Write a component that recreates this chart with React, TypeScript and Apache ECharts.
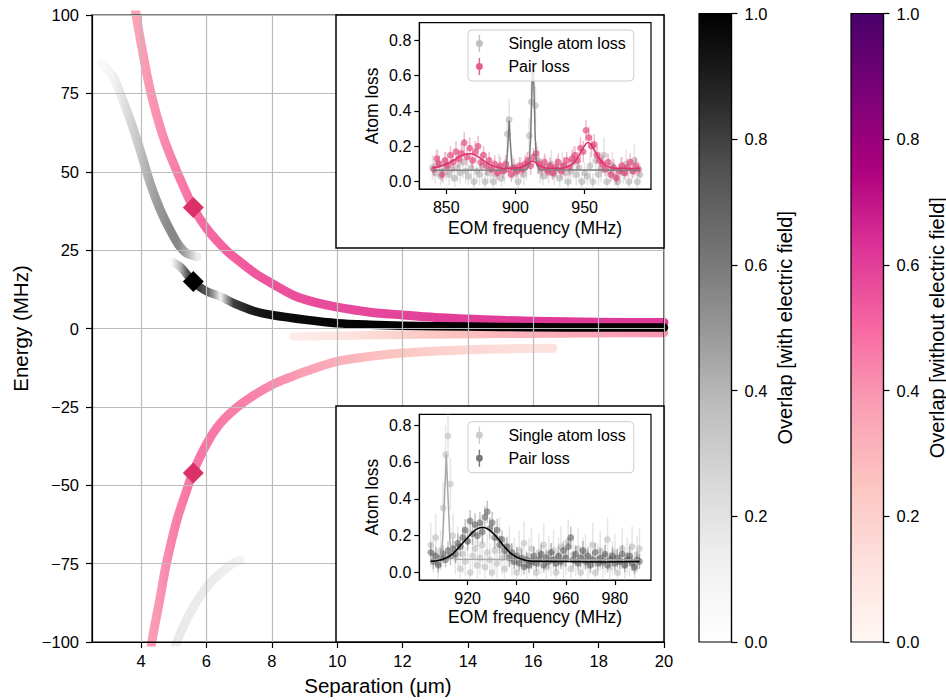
import React, { useEffect, useRef } from 'react';
import * as echarts from 'echarts';

const FONT = '"Liberation Sans", Arial, Helvetica, sans-serif';

// ---------- Main panel: curves [separation µm], [energy MHz], [overlap 0..1]
const curveAX = [3.78, 3.85, 4.0, 4.2, 4.4, 4.7, 5.1, 5.6, 6.0, 6.6, 7.0, 7.5, 8.0, 8.7, 9.3, 10, 11, 12, 13, 14, 15, 16, 18, 20];
const curveAY = [106, 100, 91, 80, 71, 60.5, 50, 38.6, 32, 25, 21.5, 17.5, 14.4, 10.4, 8.4, 6.8, 5.2, 4.3, 3.5, 3.0, 2.6, 2.3, 2.0, 1.9];
const curveAO = [0.36, 0.36, 0.37, 0.39, 0.4, 0.42, 0.45, 0.48, 0.5, 0.52, 0.53, 0.54, 0.55, 0.56, 0.57, 0.57, 0.58, 0.59, 0.6, 0.6, 0.6, 0.61, 0.61, 0.61];

const curveBX = [4.3, 4.33, 4.59, 4.77, 5.1, 5.4, 5.58, 6.02, 6.43, 6.94, 7.5, 8.0, 8.5, 9.0, 10, 11, 12, 13, 14, 15, 16.6];
const curveBY = [-104, -100, -85.5, -75.2, -61, -51.5, -46.1, -36.6, -30.2, -25.1, -21, -18, -15.8, -13.8, -10.5, -8.9, -7.8, -7.2, -6.8, -6.5, -6.3];
const curveBO = [0.38, 0.38, 0.4, 0.42, 0.45, 0.46, 0.47, 0.47, 0.46, 0.45, 0.44, 0.42, 0.4, 0.37, 0.33, 0.28, 0.24, 0.2, 0.17, 0.14, 0.12];

const curveCX = [8.67, 9, 10, 11, 12, 13, 14, 15, 16, 17, 18, 19, 20];
const curveCY = [-2.6, -2.5, -2.3, -2.1, -2.0, -1.9, -1.8, -1.7, -1.65, -1.6, -1.5, -1.45, -1.4];
const curveCO = [0.06, 0.07, 0.1, 0.15, 0.2, 0.24, 0.27, 0.3, 0.32, 0.34, 0.36, 0.38, 0.4];

const curveDX = [2.8, 3.15, 3.36, 3.67, 3.97, 4.28, 4.59, 4.89, 5.15, 5.4, 5.71];
const curveDY = [84.6, 80.3, 75, 66.5, 57, 46.3, 37.8, 31.4, 26.7, 24, 22.9];
const curveDO = [0.05, 0.1, 0.17, 0.27, 0.35, 0.44, 0.5, 0.55, 0.55, 0.42, 0.15];

const curveEX = [4.94, 5.2, 5.4, 5.58, 5.8, 6.02, 6.25, 6.43, 6.6, 6.83, 7.45, 8.0, 9.09, 10, 11, 12, 14, 16, 18, 20];
const curveEY = [21.3, 19.7, 17.3, 15.0, 13.2, 11.8, 10.9, 10.2, 9.3, 8.1, 5.6, 4.3, 2.7, 1.7, 1.2, 0.9, 0.6, 0.4, 0.3, 0.3];
const curveEO = [0.03, 0.4, 0.7, 0.85, 0.8, 0.72, 0.45, 0.1, 0.45, 0.8, 0.92, 0.95, 0.97, 0.98, 0.99, 1, 1, 1, 1, 1];

const curveFX = [5.0, 5.2, 5.61, 6.02, 6.43, 6.83, 7.04];
const curveFY = [-103, -97.2, -88.7, -82.3, -78.0, -74.8, -73.8];
const curveFO = [0.16, 0.16, 0.15, 0.15, 0.14, 0.12, 0.1];

const pinkMarkersX = [5.6, 5.6];
const pinkMarkersY = [38.6, -46.1];
const blackMarkersX = [5.6];
const blackMarkersY = [15.0];

const mainXTicks = [4, 6, 8, 10, 12, 14, 16, 18, 20];
const insetYTicks = [0, 0.2, 0.4, 0.6, 0.8];
const inset1XTicks = [850, 900, 950];
const inset2XTicks = [920, 940, 960, 980];

// ---------- Inset 1 (upper): [EOM MHz, atom loss, error]
const single1 = [
  [840,0.08,0.07],[842,0.05,0.06],[844,0.10,0.08],[846,0.03,0.05],[848,0.06,0.07],[850,0.09,0.08],[852,0.04,0.06],[854,0.07,0.07],
  [856,0.02,0.05],[858,0.08,0.08],[860,0.05,0.06],[862,0.11,0.09],[864,0.06,0.07],[866,0.03,0.05],[868,0.08,0.07],[870,0.00,0.05],
  [872,0.06,0.07],[874,0.04,0.06],[876,0.09,0.08],[878,0.00,0.05],[880,0.05,0.06],[882,0.07,0.07],[884,0.00,0.05],[886,0.04,0.06],
  [888,0.08,0.08],[890,0.02,0.05],[892,0.06,0.07],[894,0.27,0.10],[895.5,0.35,0.12],[898,0.08,0.07],[900,0.05,0.06],[902,0.00,0.05],
  [904,0.07,0.07],[906,0.04,0.06],[908,0.09,0.08],[910,0.26,0.10],[911.5,0.45,0.12],[912.5,0.62,0.12],[914.5,0.43,0.11],[916,0.12,0.08],
  [918,0.06,0.07],[920,0.03,0.05],[922,0.08,0.07],[924,0.05,0.06],[926,0.10,0.08],[928,0.04,0.06],[930,0.07,0.07],[932,0.02,0.05],
  [934,0.09,0.08],[936,0.05,0.06],[938,0.00,0.05],[940,0.06,0.07],[942,0.11,0.09],[944,0.04,0.06],[946,0.08,0.08],[948,0.00,0.05],
  [950,0.05,0.06],[952,0.03,0.05],[954,0.09,0.08],[956,0.00,0.05],[958,0.12,0.09],[960,0.04,0.06],[962,0.07,0.07],[964,0.15,0.10],
  [966,0.00,0.05],[968,0.06,0.07],[970,0.09,0.08],[972,0.03,0.05],[974,0.00,0.05],[976,0.07,0.07],[978,0.05,0.06],[980,0.10,0.08],
  [982,0.00,0.05],[984,0.06,0.07],[986,0.12,0.09],[988,0.00,0.05],[990,0.04,0.06]
];
const pair1 = [
  [841,0.07,0.04],[843,0.13,0.05],[845,0.10,0.05],[847,0.04,0.04],[849,0.12,0.05],[851,0.09,0.05],[853,0.15,0.05],[855,0.11,0.05],
  [857,0.17,0.06],[859,0.13,0.05],[861,0.16,0.06],[863,0.22,0.06],[865,0.14,0.05],[867,0.19,0.06],[869,0.12,0.05],[871,0.17,0.06],
  [873,0.20,0.06],[875,0.11,0.05],[877,0.15,0.05],[879,0.09,0.05],[881,0.12,0.05],[883,0.07,0.04],[885,0.10,0.05],[887,0.05,0.04],
  [889,0.09,0.05],[891,0.06,0.04],[893,0.10,0.05],[895,0.07,0.04],[897,0.04,0.04],[899,0.08,0.05],[901,0.06,0.04],[903,0.09,0.05],
  [905,0.07,0.04],[907,0.10,0.05],[909,0.12,0.05],[911,0.09,0.05],[913,0.14,0.05],[915,0.16,0.06],[917,0.10,0.05],[919,0.08,0.05],
  [921,0.11,0.05],[923,0.06,0.04],[925,0.09,0.05],[927,0.05,0.04],[929,0.08,0.05],[931,0.11,0.05],[933,0.06,0.04],[935,0.09,0.05],
  [937,0.12,0.05],[939,0.08,0.05],[941,0.13,0.05],[943,0.15,0.05],[945,0.12,0.05],[947,0.19,0.06],[949,0.17,0.06],[951,0.29,0.06],
  [953,0.25,0.06],[955,0.20,0.06],[957,0.21,0.06],[959,0.15,0.05],[961,0.12,0.05],[963,0.10,0.05],[965,0.07,0.04],[967,0.11,0.05],
  [969,0.04,0.04],[971,0.08,0.05],[973,0.02,0.04],[975,0.06,0.04],[977,0.09,0.05],[979,0.05,0.04],[981,0.08,0.05],[983,0.11,0.05],
  [985,0.06,0.04],[987,0.09,0.05],[989,0.07,0.04]
];
const singleFit1 = [[840,0.065],[892,0.066],[893.5,0.09],[894.5,0.2],[895.5,0.345],[896.5,0.2],[897.5,0.09],[899,0.066],[908,0.068],
  [910,0.1],[911,0.25],[912,0.55],[912.6,0.66],[913.3,0.55],[914.3,0.25],[915.3,0.1],[917,0.068],[990,0.065]];
const pairFit1 = [[840,0.08],[845,0.085],[850,0.1],[855,0.12],[860,0.143],[865,0.158],[868,0.158],[872,0.146],[876,0.125],[880,0.104],
  [884,0.088],[888,0.079],[892,0.076],[896,0.076],[900,0.077],[904,0.082],[907,0.092],[909,0.103],[911,0.113],[912.5,0.117],[914,0.112],
  [916,0.1],[918,0.088],[921,0.079],[925,0.076],[930,0.076],[935,0.078],[939,0.088],[942,0.105],[945,0.135],[948,0.178],[951,0.215],
  [952.5,0.222],[954,0.215],[957,0.18],[960,0.138],[963,0.106],[966,0.088],[970,0.078],[975,0.076],[990,0.075]];

// ---------- Inset 2 (lower)
const single2 = [
  [905,0.15,0.12],[906,0.10,0.10],[907,0.19,0.13],[908,0.05,0.08],[909,0.12,0.11],[910,0.35,0.14],[911,0.64,0.16],[912,0.74,0.12],
  [913,0.48,0.14],[914,0.20,0.12],[915,0.08,0.09],[916,0.14,0.11],[917,0.02,0.07],[918,0.10,0.10],[919,0.06,0.08],[920,0.17,0.12],
  [921,0.00,0.07],[922,0.09,0.10],[923,0.13,0.11],[924,0.04,0.08],[925,0.08,0.09],[926,0.15,0.12],[927,0.03,0.07],[928,0.11,0.10],
  [929,0.07,0.09],[930,0.00,0.07],[931,0.12,0.11],[932,0.05,0.08],[933,0.18,0.12],[934,0.08,0.09],[935,0.02,0.07],[936,0.10,0.10],
  [937,0.14,0.11],[938,0.06,0.08],[939,0.09,0.10],[940,0.00,0.07],[941,0.12,0.11],[942,0.07,0.09],[943,0.16,0.12],[944,0.04,0.08],
  [945,0.09,0.10],[946,0.13,0.11],[947,0.06,0.08],[948,0.00,0.07],[949,0.11,0.10],[950,0.08,0.09],[951,0.15,0.12],[952,0.03,0.07],
  [953,0.10,0.10],[954,0.07,0.09],[955,0.12,0.11],[956,0.00,0.07],[957,0.09,0.10],[958,0.14,0.11],[959,0.05,0.08],[960,0.08,0.09],
  [961,0.17,0.12],[962,0.02,0.07],[963,0.10,0.10],[964,0.06,0.08],[965,0.13,0.11],[966,0.00,0.07],[967,0.09,0.10],[968,0.11,0.10],
  [969,0.04,0.08],[970,0.08,0.09],[971,0.15,0.12],[972,0.00,0.07],[973,0.07,0.09],[974,0.12,0.11],[975,0.05,0.08],[976,0.09,0.10],
  [977,0.18,0.12],[978,0.03,0.07],[979,0.08,0.09],[980,0.11,0.10],[981,0.00,0.07],[982,0.06,0.08],[983,0.13,0.11],[984,0.04,0.08],
  [985,0.09,0.10],[986,0.07,0.09],[987,0.14,0.11],[988,0.02,0.07],[989,0.10,0.10],[990,0.13,0.11]
];
const pair2 = [
  [905,0.11,0.05],[906,0.06,0.04],[907,0.09,0.05],[908,0.04,0.04],[909,0.08,0.05],[910,0.10,0.05],[911,0.07,0.04],[912,0.12,0.05],
  [913,0.09,0.05],[914,0.13,0.05],[915,0.10,0.05],[916,0.16,0.05],[917,0.14,0.05],[918,0.19,0.06],[919,0.23,0.06],[920,0.17,0.05],
  [921,0.28,0.06],[922,0.21,0.06],[923,0.26,0.06],[924,0.20,0.06],[925,0.27,0.06],[926,0.22,0.06],[927,0.30,0.06],[928,0.33,0.06],
  [929,0.24,0.06],[930,0.27,0.06],[931,0.19,0.06],[932,0.23,0.06],[933,0.15,0.05],[934,0.18,0.05],[935,0.12,0.05],[936,0.14,0.05],
  [937,0.08,0.05],[938,0.11,0.05],[939,0.06,0.04],[940,0.09,0.05],[941,0.05,0.04],[942,0.08,0.05],[943,0.03,0.04],[944,0.07,0.04],
  [945,0.04,0.04],[946,0.06,0.04],[947,0.09,0.05],[948,0.05,0.04],[949,0.07,0.04],[950,0.10,0.05],[951,0.04,0.04],[952,0.08,0.05],
  [953,0.06,0.04],[954,0.11,0.05],[955,0.07,0.04],[956,0.05,0.04],[957,0.09,0.05],[958,0.06,0.04],[959,0.12,0.05],[960,0.08,0.05],
  [961,0.14,0.05],[962,0.19,0.06],[963,0.07,0.04],[964,0.10,0.05],[965,0.05,0.04],[966,0.08,0.05],[967,0.12,0.05],[968,0.06,0.04],
  [969,0.09,0.05],[970,0.04,0.04],[971,0.07,0.04],[972,0.11,0.05],[973,0.05,0.04],[974,0.08,0.05],[975,0.06,0.04],[976,0.10,0.05],
  [977,0.04,0.04],[978,0.07,0.04],[979,0.09,0.05],[980,0.05,0.04],[981,0.08,0.05],[982,0.06,0.04],[983,0.10,0.05],[984,0.04,0.04],
  [985,0.07,0.04],[986,0.09,0.05],[987,0.05,0.04],[988,0.03,0.04],[989,0.07,0.04],[990,0.06,0.04]
];
const singleFit2 = [[905,0.07],[908,0.072],[909,0.09],[909.8,0.17],[910.5,0.38],[911.3,0.64],[912.1,0.38],[912.8,0.17],[913.6,0.09],[915,0.072],[990,0.07]];
const pairFit2 = [[905,0.062],[908,0.066],[911,0.078],[914,0.103],[917,0.145],[920,0.19],[922,0.218],[924,0.238],[926,0.245],[928,0.238],
  [930,0.218],[932,0.19],[935,0.14],[938,0.1],[941,0.077],[944,0.066],[948,0.061],[960,0.06],[975,0.058],[990,0.06]];

// ---------- colormaps
const GREYS = ['#ffffff', '#f0f0f0', '#d9d9d9', '#bdbdbd', '#969696', '#737373', '#525252', '#252525', '#000000'];
const RDPU = ['#fff7f3', '#fde0dd', '#fcc5c0', '#fa9fb5', '#f768a1', '#dd3497', '#ae017e', '#7a0177', '#49006a'];

function hex(h: string) {
  return [parseInt(h.slice(1, 3), 16), parseInt(h.slice(3, 5), 16), parseInt(h.slice(5, 7), 16)];
}
function cmap(stops: string[], v: number) {
  const t = Math.max(0, Math.min(1, v)) * (stops.length - 1);
  const i = Math.min(Math.floor(t), stops.length - 2);
  const f = t - i;
  const a = hex(stops[i]);
  const b = hex(stops[i + 1]);
  const c = a.map((av, k) => Math.round(av + (b[k] - av) * f));
  return `rgb(${c[0]},${c[1]},${c[2]})`;
}
function curveGradient(xs: number[], ov: number[], stops: string[]) {
  const x0 = xs[0];
  const x1 = xs[xs.length - 1];
  return {
    type: 'linear', x: 0, y: 0, x2: 1, y2: 0,
    colorStops: xs.map((x, i) => ({ offset: (x - x0) / (x1 - x0), color: cmap(stops, ov[i]) })),
  };
}
function barGradient(stops: string[]) {
  const n = stops.length;
  return {
    type: 'linear', x: 0, y: 0, x2: 0, y2: 1,
    colorStops: stops.map((_, i) => ({ offset: i / (n - 1), color: stops[n - 1 - i] })),
  };
}

function curveSeries(xs: number[], ys: number[], ov: number[], stops: string[], width: number) {
  return {
    type: 'line', xAxisIndex: 0, yAxisIndex: 0, silent: true, z: 2,
    data: xs.map((x, i) => [x, ys[i]]),
    smooth: 0.3, symbol: 'none', showSymbol: false, clip: true,
    lineStyle: { width, color: curveGradient(xs, ov, stops), cap: 'round', join: 'round' },
  };
}

function errSeries(name: string, data: number[][], idx: number, fill: string, fillOp: number, stroke: string, strokeOp: number, z: number) {
  return {
    type: 'custom', name, xAxisIndex: idx, yAxisIndex: idx, data, clip: true, silent: true, z,
    encode: { x: 0, y: 1 },
    renderItem: (_p: any, api: any) => {
      const x = api.value(0), y = api.value(1), e = api.value(2);
      const c = api.coord([x, y]);
      const t = api.coord([x, y + e]);
      const b = api.coord([x, y - e]);
      return {
        type: 'group',
        children: [
          { type: 'line', shape: { x1: c[0], y1: t[1], x2: c[0], y2: b[1] }, style: { stroke, lineWidth: 1.5, opacity: strokeOp } },
          { type: 'circle', shape: { cx: c[0], cy: c[1], r: 3.4 }, style: { fill, opacity: fillOp } },
        ],
      };
    },
  };
}

function fitSeries(data: number[][], idx: number, color: string, smooth: number, z: number) {
  return {
    type: 'line', xAxisIndex: idx, yAxisIndex: idx, data, smooth, symbol: 'none', showSymbol: false,
    silent: true, clip: true, z, lineStyle: { color, width: 1.5 },
  };
}

const minusFmt = (v: number) => (v < 0 ? '\u2212' + Math.abs(v) : String(v));
const black = { color: '#000', width: 1.2 };

function insetX(grid: number, min: number, max: number, ticks: number[], gap: number) {
  return {
    gridIndex: grid, type: 'value', min, max, z: 11,
    axisLine: { show: true, onZero: false, lineStyle: black },
    axisTick: { show: true, length: 5, lineStyle: black, customValues: ticks },
    axisLabel: { show: true, customValues: ticks, fontSize: 16, color: '#000', margin: 10, fontFamily: FONT },
    splitLine: { show: false },
    name: 'EOM frequency (MHz)', nameLocation: 'middle', nameGap: gap,
    nameTextStyle: { fontSize: 17.5, color: '#000', fontFamily: FONT },
  };
}
function insetY(grid: number, min: number, max: number) {
  return {
    gridIndex: grid, type: 'value', min, max, z: 11,
    axisLine: { show: true, onZero: false, lineStyle: black },
    axisTick: { show: true, length: 5, lineStyle: black, customValues: insetYTicks },
    axisLabel: { show: true, customValues: insetYTicks, fontSize: 16, color: '#000', margin: 8, fontFamily: FONT,
      formatter: (v: number) => v.toFixed(1) },
    splitLine: { show: false },
    name: 'Atom loss', nameLocation: 'middle', nameGap: 38, nameRotate: 90,
    nameTextStyle: { fontSize: 17.5, color: '#000', fontFamily: FONT },
  };
}
function cbY(grid: number, name: string) {
  return {
    gridIndex: grid, type: 'value', min: 0, max: 1, interval: 0.2, position: 'right',
    axisLine: { show: true, onZero: false, lineStyle: black },
    axisTick: { show: true, length: 6, lineStyle: black },
    axisLabel: { show: true, fontSize: 16.5, color: '#000', margin: 13, fontFamily: FONT, formatter: (v: number) => v.toFixed(1) },
    splitLine: { show: false },
    name, nameLocation: 'middle', nameGap: 43, nameRotate: 90,
    nameTextStyle: { fontSize: 20, color: '#000', fontFamily: FONT },
  };
}

const errIcon = 'path://M-0.7,-8.5L0.7,-8.5L0.7,8.5L-0.7,8.5Z M-3.4,0A3.4,3.4 0 1,1 3.4,0A3.4,3.4 0 1,1 -3.4,0Z';
function legendAt(top: number, c1: string, c2: string) {
  return {
    orient: 'vertical', left: 468, top, padding: [5, 8, 6, 8], itemWidth: 28, itemHeight: 17, itemGap: 6,
    borderColor: '#cccccc', borderWidth: 1, borderRadius: 4, backgroundColor: 'rgba(255,255,255,0.8)',
    selectedMode: false, z: 15,
    textStyle: { fontFamily: FONT, fontSize: 16, color: '#000', padding: [0, 0, 0, 10] },
    data: [
      { name: 'Single atom loss', icon: errIcon, itemStyle: { color: c1, opacity: 0.75 } },
      { name: 'Pair loss', icon: errIcon, itemStyle: { color: c2, opacity: 0.8 } },
    ],
  };
}

export default function App() {
  const ref = useRef<HTMLDivElement>(null);
  useEffect(() => {
    document.body.style.margin = '0';
    const chart = echarts.init(ref.current!, undefined, { renderer: 'svg' });
    const option: any = {
      animation: false,
      backgroundColor: '#fff',
      textStyle: { fontFamily: FONT },
      grid: [
        { left: 92, top: 15, width: 572, height: 627, show: true, borderColor: '#000', borderWidth: 1.2, backgroundColor: 'transparent', z: 3, outerBoundsMode: 'none' },
        { left: 419.3, top: 22.7, width: 231.7, height: 166.3, show: true, borderColor: '#000', borderWidth: 1.2, backgroundColor: 'transparent', z: 11, outerBoundsMode: 'none' },
        { left: 419.3, top: 414.3, width: 231.7, height: 165.7, show: true, borderColor: '#000', borderWidth: 1.2, backgroundColor: 'transparent', z: 11, outerBoundsMode: 'none' },
        { left: 699, top: 13.5, width: 32.5, height: 628.5, show: true, borderColor: '#000', borderWidth: 1.2, backgroundColor: barGradient(GREYS), outerBoundsMode: 'none' },
        { left: 851, top: 13.5, width: 32.5, height: 628.5, show: true, borderColor: '#000', borderWidth: 1.2, backgroundColor: barGradient(RDPU), outerBoundsMode: 'none' },
      ],
      xAxis: [
        {
          gridIndex: 0, type: 'value', min: 2.5, max: 20, z: 3,
          axisLine: { show: true, onZero: false, lineStyle: black },
          axisTick: { show: true, length: 6, lineStyle: black, customValues: mainXTicks },
          axisLabel: { show: true, customValues: mainXTicks, fontSize: 16.5, color: '#000', margin: 10, fontFamily: FONT },
          splitLine: { show: true, lineStyle: { color: '#bbbbbb', width: 1.2 } },
          name: 'Separation (\u03bcm)', nameLocation: 'middle', nameGap: 33,
          nameTextStyle: { fontSize: 20.5, color: '#000', fontFamily: FONT },
        },
        insetX(1, 830.5, 998, inset1XTicks, 30),
        insetX(2, 900.3, 994.7, inset2XTicks, 28),
        { gridIndex: 3, type: 'value', min: 0, max: 1, show: false },
        { gridIndex: 4, type: 'value', min: 0, max: 1, show: false },
      ],
      yAxis: [
        {
          gridIndex: 0, type: 'value', min: -100, max: 100, interval: 25, z: 3,
          axisLine: { show: true, onZero: false, lineStyle: black },
          axisTick: { show: true, length: 6, lineStyle: black },
          axisLabel: { show: true, fontSize: 16.5, color: '#000', margin: 13, fontFamily: FONT, formatter: minusFmt },
          splitLine: { show: true, lineStyle: { color: '#bbbbbb', width: 1.2 } },
          name: 'Energy (MHz)', nameLocation: 'middle', nameGap: 60, nameRotate: 90,
          nameTextStyle: { fontSize: 20.5, color: '#000', fontFamily: FONT },
        },
        insetY(1, -0.041, 0.898),
        insetY(2, -0.04, 0.858),
        cbY(3, 'Overlap [with electric field]'),
        cbY(4, 'Overlap [without electric field]'),
      ],
      legend: [legendAt(30, '#aaaaaa', '#e0356f'), legendAt(421.7, '#bbbbbb', '#555555')],
      graphic: [
        { type: 'rect', z: 10, silent: true, shape: { x: 336, y: 15, width: 328, height: 233 }, style: { fill: '#fff', stroke: '#000', lineWidth: 1.5 } },
        { type: 'rect', z: 10, silent: true, shape: { x: 336, y: 406, width: 328, height: 236 }, style: { fill: '#fff', stroke: '#000', lineWidth: 1.5 } },
      ],
      series: [
        curveSeries(curveDX, curveDY, curveDO, GREYS, 9),
        curveSeries(curveFX, curveFY, curveFO, GREYS, 9),
        curveSeries(curveCX, curveCY, curveCO, RDPU, 8.5),
        curveSeries(curveBX, curveBY, curveBO, RDPU, 9),
        curveSeries(curveAX, curveAY, curveAO, RDPU, 9),
        curveSeries(curveEX, curveEY, curveEO, GREYS, 8.5),
        {
          type: 'scatter', xAxisIndex: 0, yAxisIndex: 0, silent: true, z: 4, symbol: 'diamond', symbolSize: 21,
          data: pinkMarkersX.map((x, i) => [x, pinkMarkersY[i]]), itemStyle: { color: '#dc3166', opacity: 1 },
        },
        {
          type: 'scatter', xAxisIndex: 0, yAxisIndex: 0, silent: true, z: 4, symbol: 'diamond', symbolSize: 21,
          data: blackMarkersX.map((x, i) => [x, blackMarkersY[i]]), itemStyle: { color: '#000', opacity: 1 },
        },
        errSeries('Single atom loss', single1, 1, '#9a9a9a', 0.45, '#b0b0b0', 0.35, 12),
        fitSeries(singleFit1, 1, '#7a7a7a', 0, 13),
        errSeries('Pair loss', pair1, 1, '#e0356f', 0.6, '#e0356f', 0.35, 12),
        fitSeries(pairFit1, 1, '#dc3166', 0.3, 13),
        errSeries('Single atom loss', single2, 2, '#b8b8b8', 0.55, '#c8c8c8', 0.45, 12),
        fitSeries(singleFit2, 2, '#a8a8a8', 0, 13),
        errSeries('Pair loss', pair2, 2, '#4a4a4a', 0.5, '#555555', 0.35, 12),
        fitSeries(pairFit2, 2, '#000000', 0.3, 13),
      ],
    };
    chart.setOption(option);
    return () => chart.dispose();
  }, []);
  return <div ref={ref} style={{ width: 946, height: 700 }} />;
}
